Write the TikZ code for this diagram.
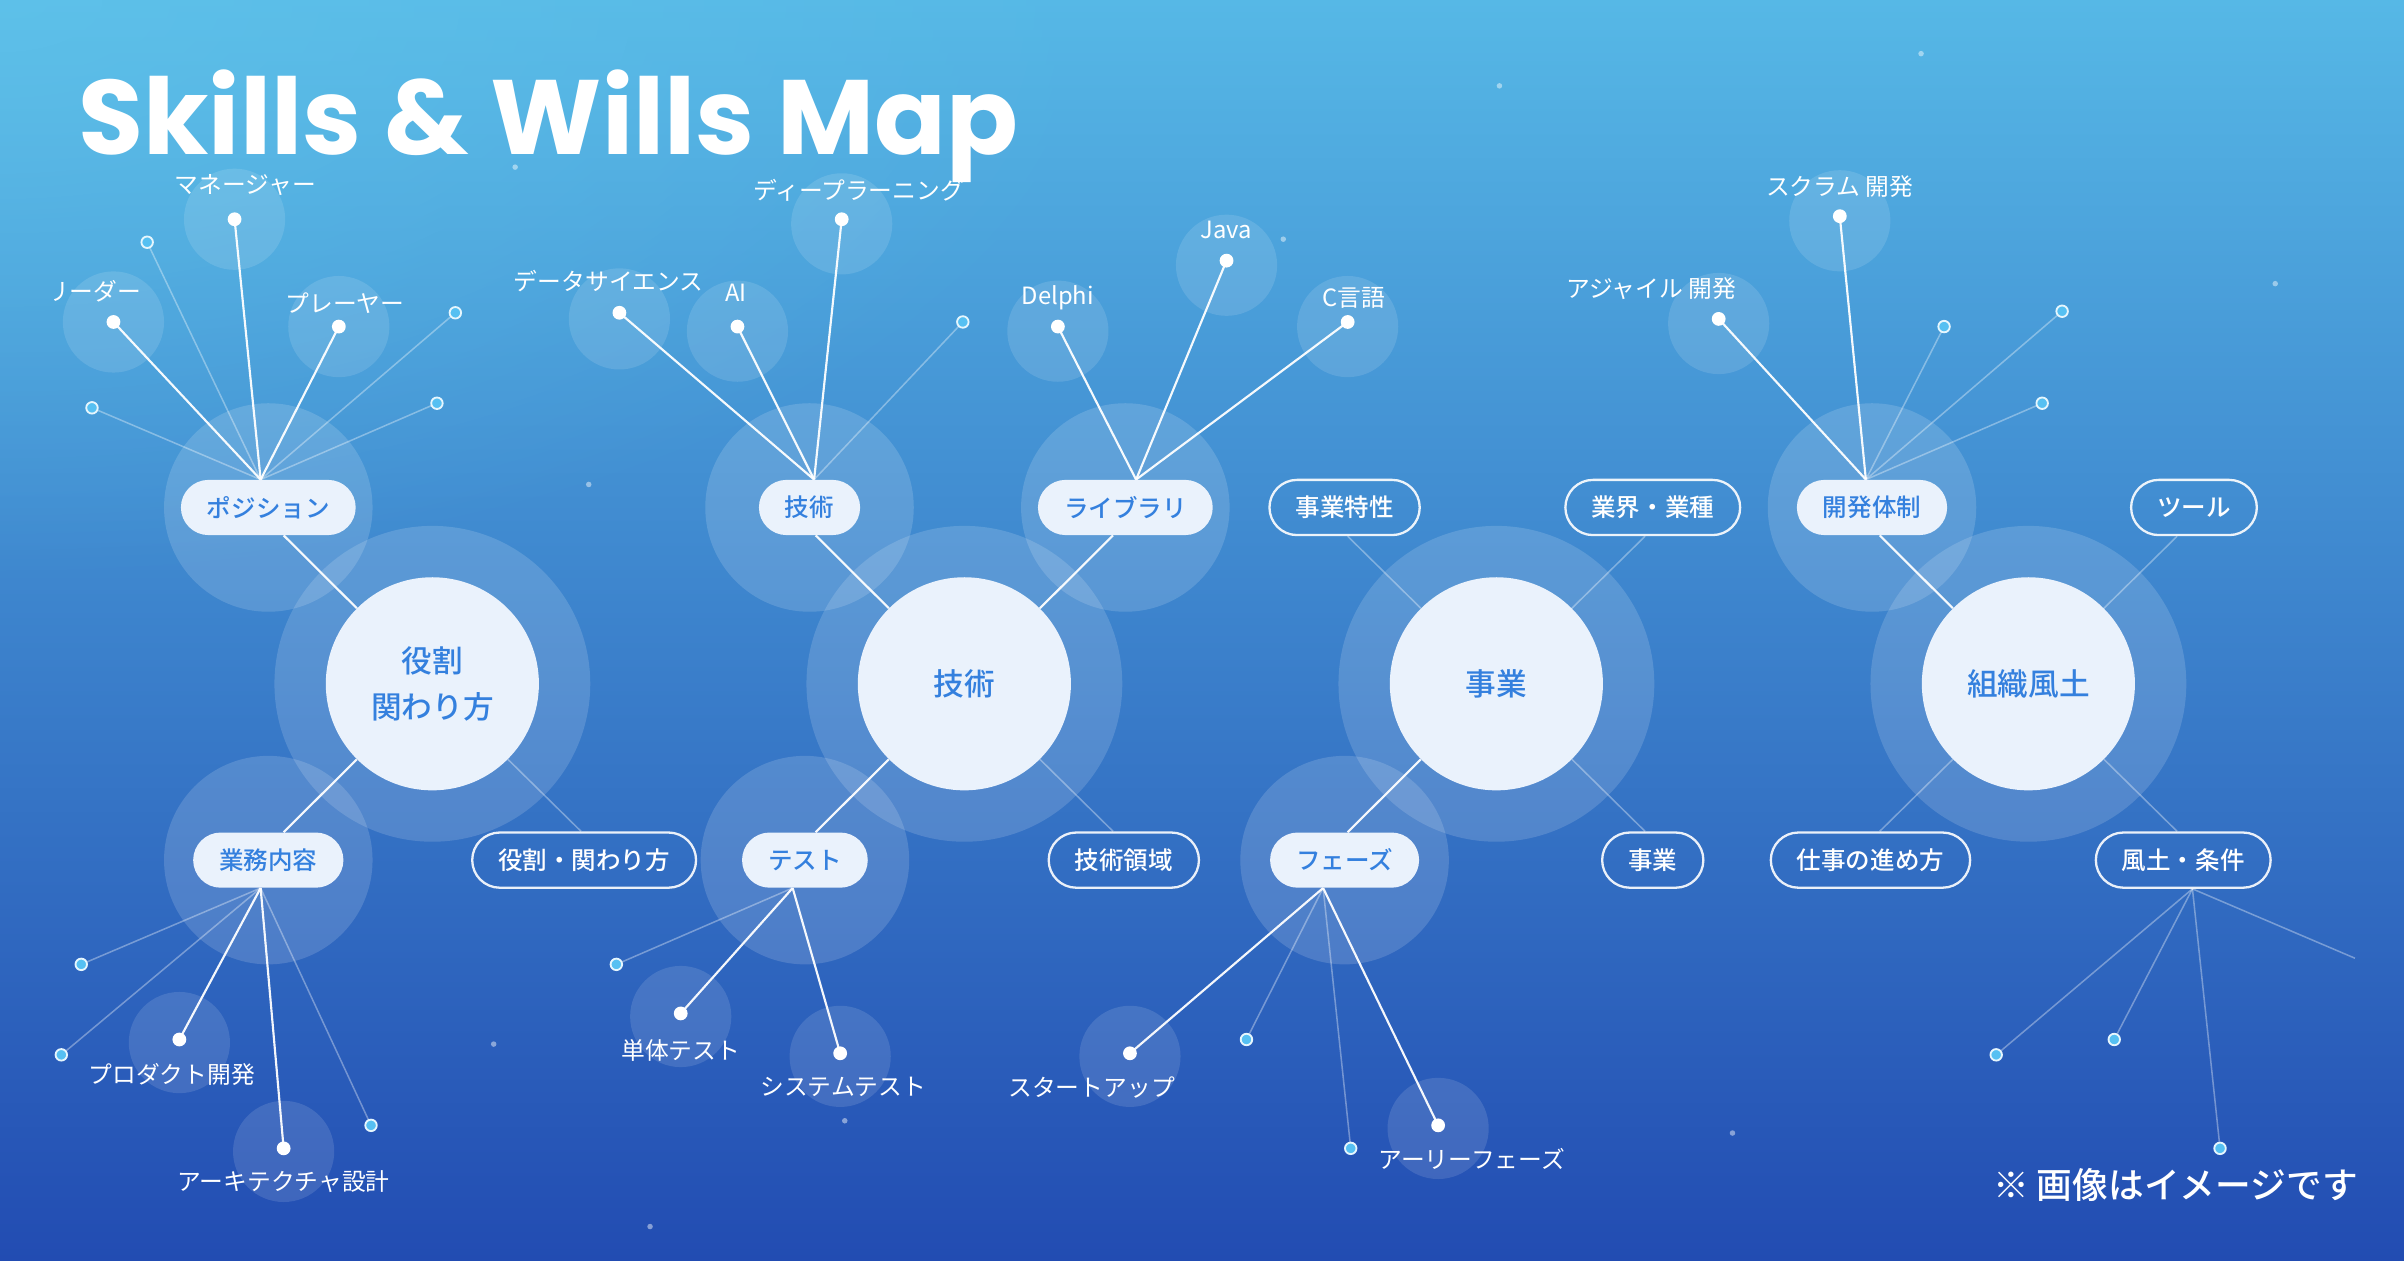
\documentclass[tikz,border=0pt]{standalone}
\usepackage{fontspec}
\setmainfont{Noto Sans CJK JP}
\newfontfamily\jpmed{Noto Sans CJK JP}[UprightFont=* Medium]
\newfontfamily\titlefont{Poppins}
\usetikzlibrary{fadings}
\definecolor{bgA}{RGB}{86,184,230}
\definecolor{bgB}{RGB}{44,112,226}
\definecolor{bgC}{RGB}{34,76,178}
\definecolor{glowc}{RGB}{100,200,236}
\definecolor{hubfill}{RGB}{234,242,252}
\definecolor{hubtext}{RGB}{52,128,222}
\definecolor{ghostc}{RGB}{86,192,242}
\tikzfading[name=glowfade, inner color=transparent!0, outer color=transparent!100]
\pgfdeclarelayer{back}
\pgfdeclarelayer{mid}
\pgfsetlayers{back,mid,main}
\tikzset{
  hub/.style={circle, fill=hubfill, text=hubtext, minimum size=139pt, inner sep=0pt, align=center, font=\jpmed\fontsize{20}{30}\selectfont},
  pillF/.style={rectangle, rounded corners=18pt, fill=hubfill, text=hubtext, minimum height=36pt, inner xsep=17pt, inner ysep=0pt, font=\jpmed\fontsize{16}{16}\selectfont},
  pillO/.style={rectangle, rounded corners=18pt, draw=white, draw opacity=0.9, line width=1.5pt, text=white, minimum height=36pt, inner xsep=17pt, inner ysep=0pt, font=\jpmed\fontsize{16}{16}\selectfont},
  leaf/.style={circle, fill=white, minimum size=9pt, inner sep=0pt},
  ghost/.style={circle, fill=ghostc, draw=white!85!ghostc, line width=1.2pt, minimum size=7.5pt, inner sep=0pt},
  lbl/.style={text=white, font=\fontsize{15.5}{15.5}\selectfont, inner sep=0pt},
  strongline/.style={draw=white, line width=1.4pt, draw opacity=0.95},
  faintline/.style={draw=white, line width=1pt, draw opacity=0.35},
  hubhalo/.style={fill=white, fill opacity=0.15},
  pillhalo/.style={fill=white, fill opacity=0.15},
  leafhalo/.style={fill=white, fill opacity=0.12},
  star/.style={fill=white, fill opacity=0.45},
}
\begin{document}
\begin{tikzpicture}[x=1pt,y=-1pt]
\useasboundingbox (0,0) rectangle (1568,822);
\begin{pgfonlayer}{back}
\shade[top color=bgA, middle color=bgB, bottom color=bgC] (0,0) rectangle (1568,822);
\fill[glowc, fill opacity=0.55, path fading=glowfade] (0,0) ellipse [x radius=750, y radius=380];
% hub halos
\foreach \x in {282,629,976,1323} \fill[hubhalo] (\x,446) circle (103);
% pill halos
\foreach \p in {(175,331),(528,331),(734,331),(1221,331),(175,561),(525,561),(877,561)} \fill[pillhalo] \p circle (68);
% leaf halos
\foreach \p in {(153,143),(74,210),(221,213),(404,208),(481,216),(549,146),(690,216),(800,173),(879,213),(1200,144),(1121,211),(117,680),(185,751),(444,663),(548,689),(737,689),(938,736)} \fill[leafhalo] \p circle (33);
% stars
\foreach \p in {(336,109),(384,316),(837,156),(978,56),(1253,35),(1484,185),(322,681),(551,731),(424,800),(1130,739)} \fill[star] \p circle (1.8);
\end{pgfonlayer}

% title
\node[anchor=base west, text=white, inner sep=0pt, font=\titlefont\bfseries\fontsize{69}{69}\selectfont] (title) at (51,101) {Skills \& Wills Map};

% hubs
\node[hub] (hR) at (282,446) {役割\\関わり方};
\node[hub] (hT) at (629,446) {技術};
\node[hub] (hB) at (976,446) {事業};
\node[hub] (hC) at (1323,446) {組織風土};

% pills
\node[pillF] (pPos) at (175,331) {ポジション};
\node[pillF] (pTec) at (528,331) {技術};
\node[pillF] (pLib) at (734,331) {ライブラリ};
\node[pillO] (pChar) at (877,331) {事業特性};
\node[pillO] (pInd) at (1078,331) {業界・業種};
\node[pillF] (pDev) at (1221,331) {開発体制};
\node[pillO] (pTool) at (1431,331) {ツール};
\node[pillF] (pWork) at (175,561) {業務内容};
\node[pillO] (pRole) at (381,561) {役割・関わり方};
\node[pillF] (pTest) at (525,561) {テスト};
\node[pillO] (pArea) at (733,561) {技術領域};
\node[pillF] (pPhase) at (877,561) {フェーズ};
\node[pillO] (pBiz) at (1078,561) {事業};
\node[pillO] (pWay) at (1220,561) {仕事の進め方};
\node[pillO] (pCult) at (1424,561) {風土・条件};

% leaves
\node[leaf] (lMgr) at (153,143) {};
\node[leaf] (lLead) at (74,210) {};
\node[leaf] (lPlay) at (221,213) {};
\node[ghost] (g1) at (96,158) {};
\node[ghost] (g2) at (60,266) {};
\node[ghost] (g3) at (297,204) {};
\node[ghost] (g4) at (285,263) {};
\node[lbl] (tMgr) at (160,121) {マネージャー};
\begin{scope}
\clip (35.5,170) rectangle (120,210);
\node[lbl] (tLead) at (61,190) {リーダー};
\end{scope}
\node[lbl] (tPlay) at (225,198) {プレーヤー};

\node[leaf] (lDS) at (404,204) {};
\node[leaf] (lAI) at (481,213) {};
\node[leaf] (lDL) at (549,143) {};
\node[ghost] (g5) at (628,210) {};
\node[lbl] (tDS) at (397,183) {データサイエンス};
\node[lbl] (tAI) at (480,191) {AI};
\node[lbl] (tDL) at (560,124) {ディープラーニング};

\node[leaf] (lDel) at (690,213) {};
\node[leaf] (lJava) at (800,170) {};
\node[leaf] (lC) at (879,210) {};
\node[lbl] (tDel) at (690,194) {Delphi};
\node[lbl] (tJava) at (800,150) {Java};
\node[lbl] (tC) at (883,194) {C言語};

\node[leaf] (lScr) at (1200,141) {};
\node[leaf] (lAgi) at (1121,208) {};
\node[ghost] (g6) at (1268,213) {};
\node[ghost] (g7) at (1345,203) {};
\node[ghost] (g8) at (1332,263) {};
\node[lbl] (tScr) at (1200,122) {スクラム 開発};
\node[lbl] (tAgi) at (1077,188) {アジャイル 開発};

\node[leaf] (lProd) at (117,678) {};
\node[leaf] (lArch) at (185,749) {};
\node[ghost] (g9) at (53,629) {};
\node[ghost] (g10) at (40,688) {};
\node[ghost] (g11) at (242,734) {};
\node[lbl] (tProd) at (112,701) {プロダクト開発};
\node[lbl] (tArch) at (185,771) {アーキテクチャ設計};

\node[leaf] (lUnit) at (444,661) {};
\node[leaf] (lSys) at (548,687) {};
\node[ghost] (g12) at (402,629) {};
\node[lbl] (tUnit) at (444,685) {単体テスト};
\node[lbl] (tSys) at (550,709) {システムテスト};

\node[leaf] (lStart) at (737,687) {};
\node[leaf] (lEarly) at (938,734) {};
\node[ghost] (g13) at (813,678) {};
\node[ghost] (g14) at (881,749) {};
\node[lbl] (tStart) at (712,709) {スタートアップ};
\node[lbl] (tEarly) at (960,756) {アーリーフェーズ};

\node[ghost] (g15) at (1302,688) {};
\node[ghost] (g16) at (1379,678) {};
\node[ghost] (g17) at (1448,749) {};
\coordinate (g18) at (1536,625);

% footnote
\node[anchor=base east, text=white, inner sep=0pt, font=\jpmed\fontsize{23.3}{23.3}\selectfont] (note) at (1538,782) {※ 画像はイメージです};

\begin{pgfonlayer}{mid}
% hub to pills
\draw[strongline] (hR.north west) -- ([xshift=10pt]pPos.south);
\draw[strongline] (hR.south west) -- ([xshift=10pt]pWork.north);
\draw[faintline] (hR.south east) -- ([xshift=-2pt]pRole.north);
\draw[strongline] (hT.north west) -- ([xshift=4pt]pTec.south);
\draw[strongline] (hT.north east) -- ([xshift=-8pt]pLib.south);
\draw[strongline] (hT.south west) -- ([xshift=7pt]pTest.north);
\draw[faintline] (hT.south east) -- ([xshift=-7pt]pArea.north);
\draw[faintline] (hB.north west) -- ([xshift=2pt]pChar.south);
\draw[faintline] (hB.north east) -- ([xshift=-5pt]pInd.south);
\draw[strongline] (hB.south west) -- ([xshift=2pt]pPhase.north);
\draw[faintline] (hB.south east) -- ([xshift=-5pt]pBiz.north);
\draw[strongline] (hC.north west) -- ([xshift=5pt]pDev.south);
\draw[faintline] (hC.north east) -- ([xshift=-11pt]pTool.south);
\draw[faintline] (hC.south west) -- ([xshift=6pt]pWay.north);
\draw[faintline] (hC.south east) -- ([xshift=-4pt]pCult.north);
% pills to leaves
\foreach \n in {lMgr,lLead,lPlay} \draw[strongline] ([xshift=-5pt]pPos.north) -- (\n.center);
\foreach \n in {g1,g2,g3,g4} \draw[faintline] ([xshift=-5pt]pPos.north) -- (\n.center);
\foreach \n in {lDS,lAI,lDL} \draw[strongline] ([xshift=3pt]pTec.north) -- (\n.center);
\draw[faintline] ([xshift=3pt]pTec.north) -- (g5.center);
\foreach \n in {lDel,lJava,lC} \draw[strongline] ([xshift=7pt]pLib.north) -- (\n.center);
\foreach \n in {lScr,lAgi} \draw[strongline] ([xshift=-4pt]pDev.north) -- (\n.center);
\foreach \n in {g6,g7,g8} \draw[faintline] ([xshift=-4pt]pDev.north) -- (\n.center);
\foreach \n in {lProd,lArch} \draw[strongline] ([xshift=-5pt]pWork.south) -- (\n.center);
\foreach \n in {g9,g10,g11} \draw[faintline] ([xshift=-5pt]pWork.south) -- (\n.center);
\foreach \n in {lUnit,lSys} \draw[strongline] ([xshift=-8pt]pTest.south) -- (\n.center);
\draw[faintline] ([xshift=-8pt]pTest.south) -- (g12.center);
\foreach \n in {lStart,lEarly} \draw[strongline] ([xshift=-14pt]pPhase.south) -- (\n.center);
\foreach \n in {g13,g14} \draw[faintline] ([xshift=-14pt]pPhase.south) -- (\n.center);
\foreach \n in {g15,g16,g17,g18} \draw[faintline] ([xshift=6pt]pCult.south) -- (\n);
\end{pgfonlayer}
\end{tikzpicture}
\end{document}
